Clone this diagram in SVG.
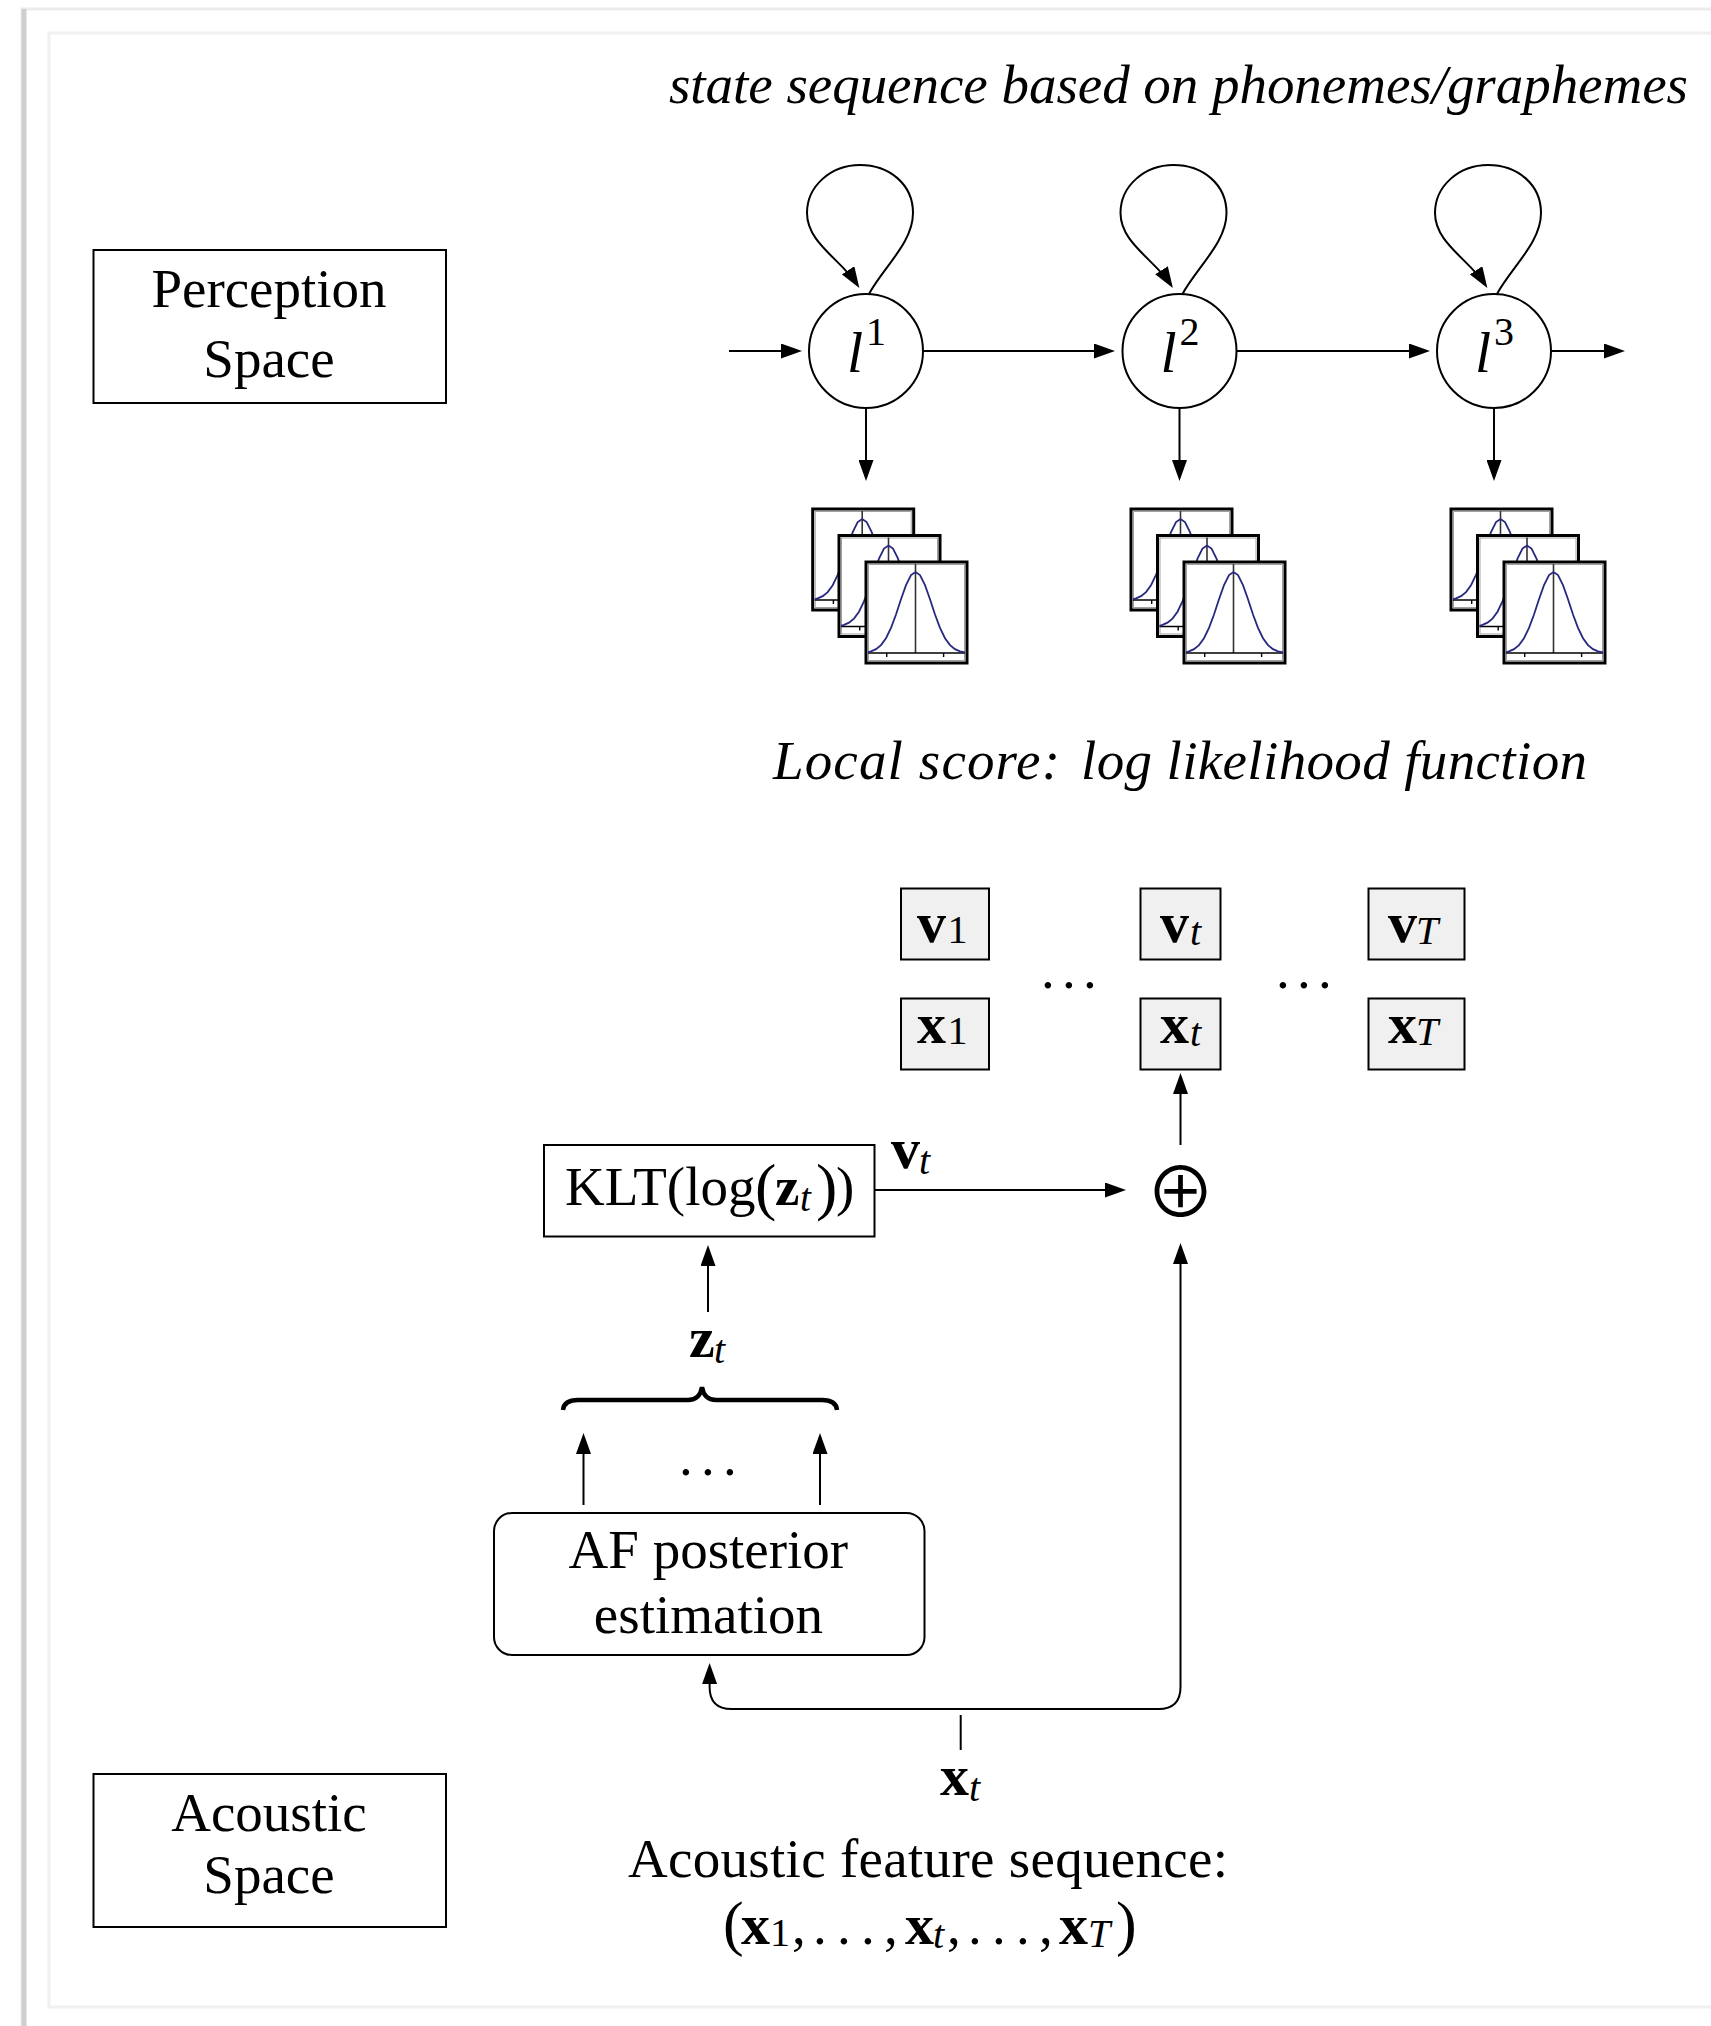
<svg xmlns="http://www.w3.org/2000/svg" width="1711" height="2026" viewBox="0 0 1711 2026">
<style>
  text { font-family: "Liberation Serif", "Times New Roman", serif; fill: #000; }
  .t55 { font-size: 55px; }
  .it { font-style: italic; }
  .bf { font-weight: bold; }
  .mid { text-anchor: middle; }
  .box { fill: #fff; stroke: #000; stroke-width: 2; }
  .vbox { fill: #f0f0f0; stroke: #000; stroke-width: 2; }
  .node { fill: #fff; stroke: #000; stroke-width: 2; }
  .edge { fill: none; stroke: #000; stroke-width: 2; }
  .arr { fill: none; stroke: #000; stroke-width: 2; marker-end: url(#ah); }
  .sub { font-size: 40px; }
</style>
<defs>
  <marker id="ah" markerUnits="userSpaceOnUse" viewBox="0 0 21 15" markerWidth="21" markerHeight="15" refX="17" refY="7.5" orient="auto-start-reverse">
    <path d="M0,0 L21,7.5 L0,15 z" fill="#000"/>
  </marker>
  <g id="gp">
    <rect x="0" y="0" width="101" height="101" fill="#fff" stroke="#000" stroke-width="3"/>
    <rect x="2.5" y="2.5" width="96" height="96" fill="none" stroke="#a0a0a0" stroke-width="1"/>
    <line x1="49.5" y1="2" x2="49.5" y2="91" stroke="#333" stroke-width="1.6"/>
    <line x1="2" y1="91" x2="99" y2="91" stroke="#000" stroke-width="1.6"/>
    <line x1="20.7" y1="91" x2="20.7" y2="95" stroke="#000" stroke-width="1.4"/>
    <line x1="77.6" y1="91" x2="77.6" y2="95" stroke="#000" stroke-width="1.4"/>
    <polyline fill="none" stroke="#28287f" stroke-width="1.8" points="2,90.4 5,89.3 10,87.15 15,83.1 20,76.2 25,65.9 30,52.5 35,37.3 40,23.1 45,13.1 49.5,10 54,13.1 59,23.1 64,37.3 69,52.5 74,65.9 79,76.2 84,83.1 89,87.15 94,89.3 99,90.4"/>
  </g>
  <path id="loop" d="M869,294 C883,267.6 913,243 913,213 C913,184 889,165 860,165 C831,165 807,186 807,213 C807,243 841,259.4 857.2,284.6"/>
</defs>

<rect x="0" y="0" width="1711" height="2026" fill="#fff"/>

<g id="frame">
  <rect x="22" y="9" width="1700" height="2030" fill="none" stroke="#ebebeb" stroke-width="3"/>
  <line x1="24" y1="9" x2="24" y2="2026" stroke="#cfcfcf" stroke-width="5"/>
  <rect x="49" y="33" width="1700" height="1974" fill="none" stroke="#f0f0f0" stroke-width="3"/>
</g>

<g id="title">
  <text class="t55 it" x="669" y="103" textLength="1019" lengthAdjust="spacing">state sequence based on phonemes/graphemes</text>
</g>

<g id="perception-space">
  <rect class="box" x="93.5" y="250" width="352.5" height="153"/>
  <text class="t55 mid" x="269" y="307">Perception</text>
  <text class="t55 mid" x="269" y="377">Space</text>
</g>

<g id="state-l1">
  <circle class="node" cx="866" cy="351" r="57"/>
  <text class="it" x="847" y="372" font-size="58">l</text>
  <text x="866" y="345" font-size="40">1</text>
</g>
<g id="state-l2">
  <circle class="node" cx="1179.5" cy="351" r="57"/>
  <text class="it" x="1160.5" y="372" font-size="58">l</text>
  <text x="1179.5" y="345" font-size="40">2</text>
</g>
<g id="state-l3">
  <circle class="node" cx="1494" cy="351" r="57"/>
  <text class="it" x="1475" y="372" font-size="58">l</text>
  <text x="1494" y="345" font-size="40">3</text>
</g>

<g id="gmm-1">
  <use href="#gp" x="812.7" y="509"/>
  <use href="#gp" x="839" y="535.5"/>
  <use href="#gp" x="866" y="562"/>
</g>
<g id="gmm-2">
  <use href="#gp" x="1131" y="509"/>
  <use href="#gp" x="1157.5" y="535.5"/>
  <use href="#gp" x="1184" y="562"/>
</g>
<g id="gmm-3">
  <use href="#gp" x="1451" y="509"/>
  <use href="#gp" x="1477.5" y="535.5"/>
  <use href="#gp" x="1504" y="562"/>
</g>

<g id="local-score-label">
  <text class="t55 it" y="779"><tspan x="773" textLength="287" lengthAdjust="spacing">Local score:</tspan><tspan x="1081" textLength="506" lengthAdjust="spacing">log likelihood function</tspan></text>
</g>

<g id="v1">
  <rect class="vbox" x="901" y="888.5" width="88" height="71"/>
  <text x="917" y="942"><tspan class="bf" font-size="58">v</tspan><tspan class="sub" x="947.5" y="943">1</tspan></text>
</g>
<g id="vt">
  <rect class="vbox" x="1140.5" y="888.5" width="80" height="71"/>
  <text x="1160" y="942"><tspan class="bf" font-size="58">v</tspan><tspan class="sub it" x="1190" y="945">t</tspan></text>
</g>
<g id="vT">
  <rect class="vbox" x="1368.5" y="888.5" width="96" height="71"/>
  <text x="1388" y="942"><tspan class="bf" font-size="58">v</tspan><tspan class="sub it" x="1416" y="944">T</tspan></text>
</g>
<g id="x1">
  <rect class="vbox" x="901" y="998.5" width="88" height="71"/>
  <text x="917" y="1043"><tspan class="bf" font-size="58">x</tspan><tspan class="sub" x="947.5" y="1044">1</tspan></text>
</g>
<g id="xt">
  <rect class="vbox" x="1140.5" y="998.5" width="80" height="71"/>
  <text x="1160" y="1043"><tspan class="bf" font-size="58">x</tspan><tspan class="sub it" x="1190" y="1046">t</tspan></text>
</g>
<g id="xT">
  <rect class="vbox" x="1368.5" y="998.5" width="96" height="71"/>
  <text x="1388" y="1043"><tspan class="bf" font-size="58">x</tspan><tspan class="sub it" x="1416" y="1045">T</tspan></text>
</g>
<g id="dots-row">
  <text class="t55" x="1041 1062 1083" y="988">...</text>
  <text class="t55" x="1276 1297 1318" y="988">...</text>
</g>

<g id="klt">
  <rect class="box" x="544" y="1145" width="330.5" height="91.5"/>
  <text class="t55" y="1205"><tspan x="565">KLT(log</tspan><tspan x="755" font-size="64" y="1208">(</tspan><tspan class="bf" x="775" y="1205">z</tspan><tspan class="it" x="800" y="1211" font-size="39">t</tspan><tspan x="816" font-size="64" y="1208">)</tspan><tspan x="836" y="1205">)</tspan></text>
</g>

<g id="sum">
  <text class="mid" x="1180.6" y="1218" font-size="70" style="font-family:'Noto Sans CJK JP','DejaVu Sans',sans-serif">⊕</text>
</g>

<g id="vt-label">
  <text x="891" y="1168"><tspan class="bf" font-size="58">v</tspan><tspan class="it" font-size="40" x="919" y="1174">t</tspan></text>
</g>

<g id="zt-label">
  <text x="689" y="1357"><tspan class="bf" font-size="58">z</tspan><tspan class="it" font-size="40" x="714" y="1363">t</tspan></text>
</g>

<g id="brace">
  <path d="M563,1410 Q564,1400 578,1400 L688,1400 Q700,1400 702,1387 Q704,1400 716,1400 L822,1400 Q836,1400 837,1410" fill="none" stroke="#000" stroke-width="4.5"/>
</g>

<g id="af-dots">
  <text class="t55" x="679 701 723" y="1475">...</text>
</g>

<g id="af-posterior">
  <rect class="box" x="494" y="1513" width="430.5" height="142" rx="18" ry="18"/>
  <text class="t55 mid" x="708.4" y="1568">AF posterior</text>
  <text class="t55 mid" x="708.4" y="1633">estimation</text>
</g>

<g id="xt-input-label">
  <text x="940" y="1795"><tspan class="bf" font-size="58">x</tspan><tspan class="it" font-size="40" x="969" y="1801">t</tspan></text>
</g>

<g id="acoustic-space">
  <rect class="box" x="93.5" y="1774" width="352.5" height="153"/>
  <text class="t55 mid" x="269" y="1831">Acoustic</text>
  <text class="t55 mid" x="269" y="1893">Space</text>
</g>

<g id="acoustic-seq">
  <text class="t55 mid" x="928" y="1877" textLength="600" lengthAdjust="spacing">Acoustic feature sequence:</text>
  <text class="t55" y="1944"><tspan x="723" font-size="62">(</tspan><tspan class="bf" x="741" font-size="58">x</tspan><tspan x="770" y="1946" font-size="40">1</tspan><tspan x="792" y="1944">,</tspan><tspan x="813 837 861">...</tspan><tspan x="884">,</tspan><tspan class="bf" x="905" font-size="58">x</tspan><tspan class="it" x="933" y="1948" font-size="40">t</tspan><tspan x="947" y="1944">,</tspan><tspan x="968 992 1016">...</tspan><tspan x="1039">,</tspan><tspan class="bf" x="1059" font-size="58">x</tspan><tspan class="it" x="1088" y="1947" font-size="40">T</tspan><tspan x="1116" y="1944" font-size="62">)</tspan></text>
</g>

<g id="connectors">
  <line class="arr" x1="729" y1="351" x2="798" y2="351"/>
  <line class="arr" x1="923" y1="351" x2="1111" y2="351"/>
  <line class="arr" x1="1236.5" y1="351" x2="1426" y2="351"/>
  <line class="arr" x1="1551" y1="351" x2="1621" y2="351"/>
  <line class="arr" x1="866" y1="408" x2="866" y2="477"/>
  <line class="arr" x1="1179.5" y1="408" x2="1179.5" y2="477"/>
  <line class="arr" x1="1494" y1="408" x2="1494" y2="477"/>
  <use href="#loop" class="arr"/>
  <use href="#loop" class="arr" x="313.5"/>
  <use href="#loop" class="arr" x="628"/>
  <line class="arr" x1="1180.5" y1="1145" x2="1180.5" y2="1077"/>
  <line class="arr" x1="874.5" y1="1190" x2="1122" y2="1190"/>
  <line class="arr" x1="708" y1="1312" x2="708" y2="1249"/>
  <line class="arr" x1="583.5" y1="1505" x2="583.5" y2="1437"/>
  <line class="arr" x1="820" y1="1505" x2="820" y2="1437"/>
  <path class="arr" style="marker-start:url(#ah)" d="M709.6,1667 L709.6,1687 Q709.6,1709 731.6,1709 L1158.5,1709 Q1180.5,1709 1180.5,1687 L1180.5,1247"/>
  <line class="edge" x1="960.7" y1="1715" x2="960.7" y2="1750"/>
</g>
</svg>
